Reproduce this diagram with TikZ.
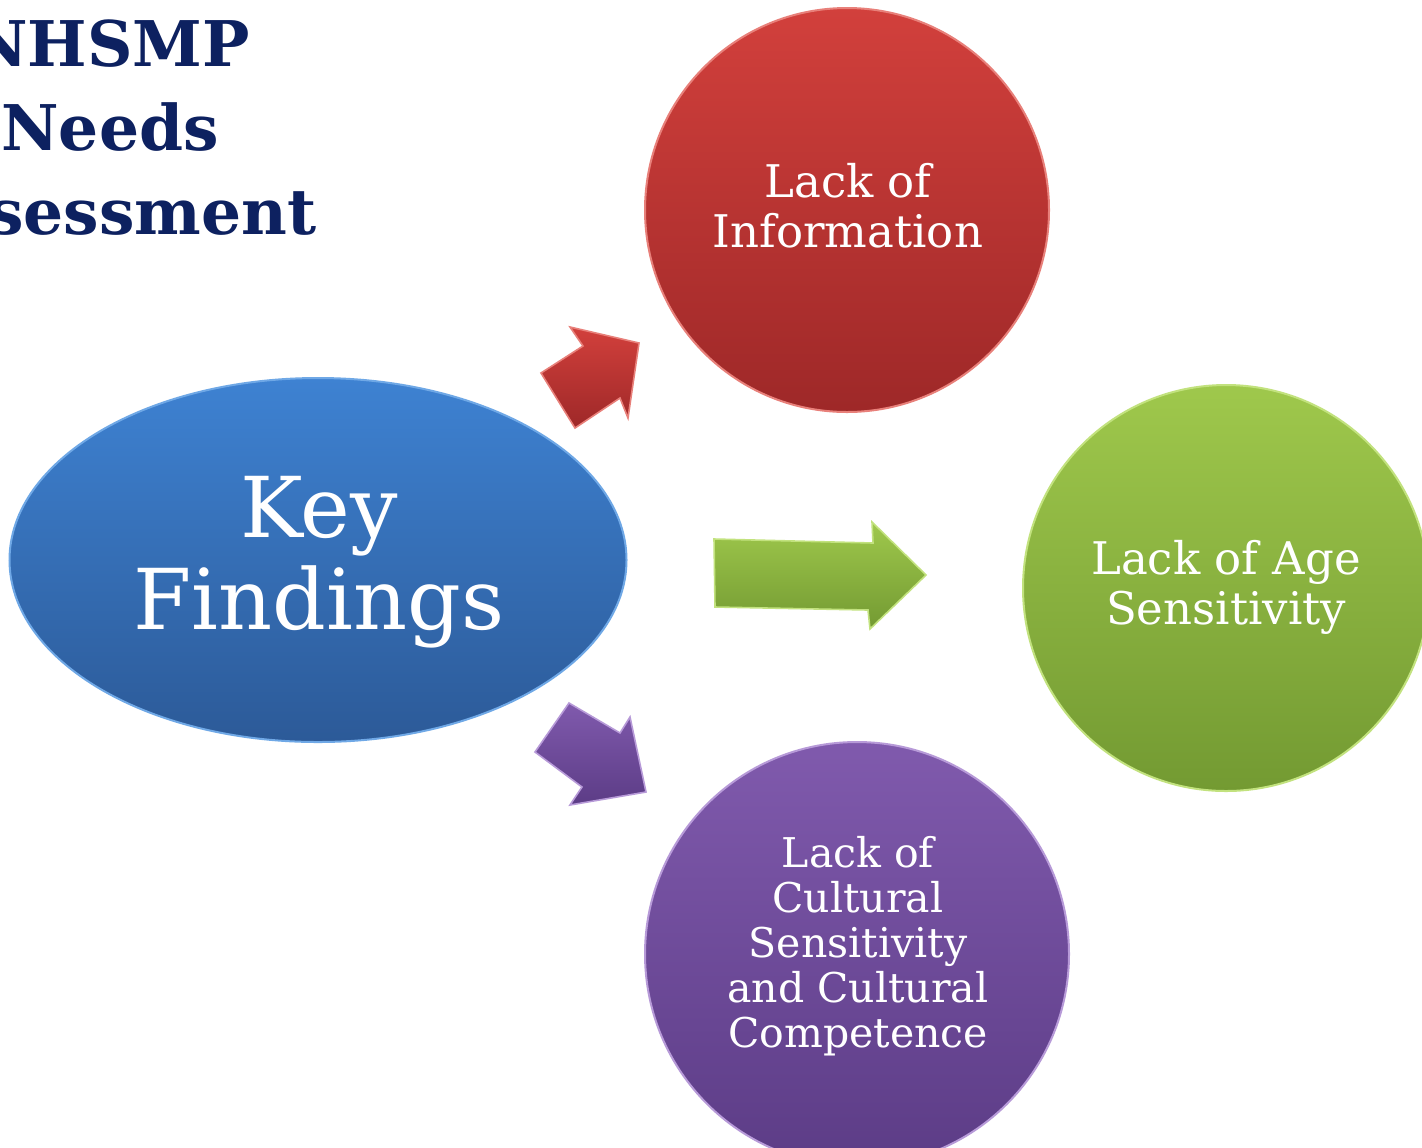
\documentclass[tikz,border=0pt]{standalone}
\usepackage{fontspec}
\setmainfont{DejaVu Serif}
\usetikzlibrary{shapes.geometric}
\definecolor{navy}{HTML}{0D2160}
\definecolor{bluetop}{HTML}{3E82D2}
\definecolor{bluebot}{HTML}{2C5A98}
\definecolor{bluerim}{HTML}{6FA8E6}
\definecolor{redtop}{HTML}{D2403C}
\definecolor{redbot}{HTML}{9E2828}
\definecolor{redrim}{HTML}{E8807A}
\definecolor{greentop}{HTML}{9FC84C}
\definecolor{greenbot}{HTML}{739A32}
\definecolor{greenrim}{HTML}{C2E27E}
\definecolor{purptop}{HTML}{805AAD}
\definecolor{purpbot}{HTML}{5C3C86}
\definecolor{purprim}{HTML}{B79AD8}
\tikzset{
  bubble/.style={circle, inner sep=0pt, minimum size=#1, text=white, align=center, line width=1pt},
  circtext/.style={font=\fontsize{22.5}{25}\selectfont},
  blockarrow/.style={line width=0.8pt, line join=miter},
}
\begin{document}
\begin{tikzpicture}[x=0.5pt,y=-0.5pt]
\useasboundingbox (0,0) rectangle (1422,1147);
\clip (0,0) rectangle (1422,1147);
\fill[white] (0,0) rectangle (1422,1147);

% title
\node[font=\bfseries\fontsize{31.5}{42}\selectfont, text=navy, align=center] (title) at (110,128) {NHSMP\\Needs\\Assessment};

% central ellipse
\node[ellipse, inner sep=0pt, minimum width=308.5pt, minimum height=182pt,
      top color=bluetop, bottom color=bluebot, draw=bluerim, line width=1pt,
      text=white, align=center] (key) at (318,560) {};
\node[text=white, align=center, font=\fontsize{42}{46}\selectfont] (keytext) at (319,562) {Key\\Findings};

% circles
\node[bubble=202pt, top color=redtop, bottom color=redbot, draw=redrim] (info) at (847,210) {};
\node[circtext, text=white, align=center] (infotext) at (848,206) {Lack of\\Information};
\node[bubble=203pt, top color=greentop, bottom color=greenbot, draw=greenrim] (age) at (1226,588) {};
\node[circtext, text=white, align=center] (agetext) at (1226,587) {Lack of Age\\Sensitivity};
\node[bubble=212pt, top color=purptop, bottom color=purpbot, draw=purprim] (cult) at (857,954) {};
\node[font=\fontsize{20.5}{22.5}\selectfont, text=white, align=center] (culttext) at (858,946) {Lack of\\Cultural\\Sensitivity\\and Cultural\\Competence};

% block arrows
\draw[blockarrow, top color=redtop, bottom color=redbot, draw=redrim]
  (541,373) -- (583,346) -- (570,327) -- (639,343) -- (628,418) -- (620,398) -- (575,428) -- cycle;
\draw[blockarrow, top color=greentop, bottom color=greenbot, draw=greenrim]
  (714,539) -- (873,543) -- (872,522) -- (926,575) -- (870,629) -- (868,610) -- (715,607) -- cycle;
\draw[blockarrow, top color=purptop, bottom color=purpbot, draw=purprim]
  (569,703) -- (620,733) -- (630,717) -- (646,792) -- (570,805) -- (582,787) -- (535,752) -- cycle;
\end{tikzpicture}
\end{document}
